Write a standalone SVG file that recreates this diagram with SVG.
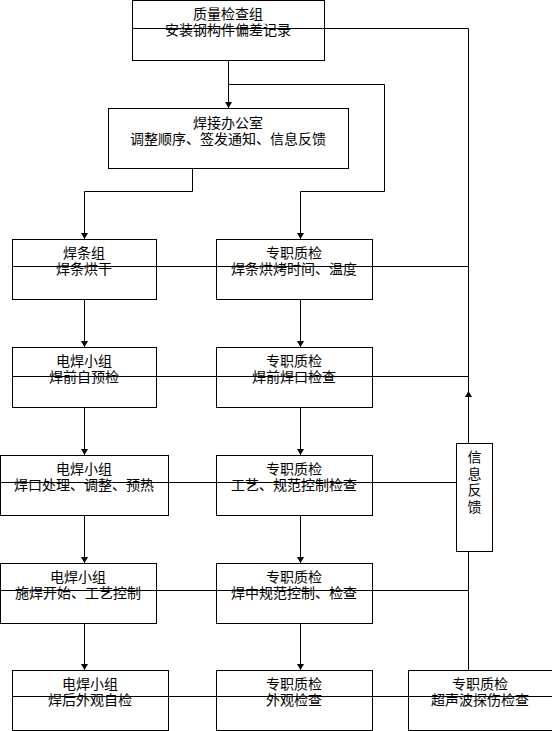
<svg xmlns="http://www.w3.org/2000/svg" width="552" height="731" viewBox="0 0 552 731">
<style>
.box{fill:#fff;stroke:#000;stroke-width:1}
.t{font-family:"Liberation Sans","Noto Sans CJK SC",sans-serif;font-size:14px;fill:#000;text-anchor:middle}
.c{fill:none;stroke:#000;stroke-width:1}
.a{marker-end:url(#ah)}
</style>
<defs>
<marker id="ah" markerUnits="userSpaceOnUse" markerWidth="7" markerHeight="7" refX="6" refY="3.5" orient="auto">
<path d="M0,0 L6,3.5 L0,7 z" fill="#000"/>
</marker>
</defs>
<rect width="552" height="731" fill="#fff"/>
<g id="n-quality"><rect class="box" x="132.5" y="0.5" width="192" height="60"/><text class="t"><tspan x="228" y="19">质量检查组</tspan><tspan x="228" y="35">安装钢构件偏差记录</tspan></text></g>
<g id="n-office"><rect class="box" x="108.5" y="108.5" width="240" height="60"/><text class="t"><tspan x="228" y="128">焊接办公室</tspan><tspan x="228" y="144">调整顺序、签发通知、信息反馈</tspan></text></g>
<g id="n-l1"><rect class="box" x="12.5" y="239.5" width="144" height="60"/><text class="t"><tspan x="84" y="258">焊条组</tspan><tspan x="84" y="274">焊条烘干</tspan></text></g>
<g id="n-r1"><rect class="box" x="216.5" y="239.5" width="156" height="60"/><text class="t"><tspan x="294" y="258">专职质检</tspan><tspan x="294" y="274">焊条烘烤时间、温度</tspan></text></g>
<g id="n-l2"><rect class="box" x="12.5" y="347.5" width="144" height="60"/><text class="t"><tspan x="84" y="366">电焊小组</tspan><tspan x="84" y="382">焊前自预检</tspan></text></g>
<g id="n-r2"><rect class="box" x="216.5" y="347.5" width="156" height="60"/><text class="t"><tspan x="294" y="366">专职质检</tspan><tspan x="294" y="382">焊前焊口检查</tspan></text></g>
<g id="n-l3"><rect class="box" x="0.5" y="455.5" width="168" height="60"/><text class="t"><tspan x="84" y="474">电焊小组</tspan><tspan x="84" y="490">焊口处理、调整、预热</tspan></text></g>
<g id="n-r3"><rect class="box" x="216.5" y="455.5" width="156" height="60"/><text class="t"><tspan x="294" y="474">专职质检</tspan><tspan x="294" y="490">工艺、规范控制检查</tspan></text></g>
<g id="n-l4"><rect class="box" x="0.5" y="563.5" width="156" height="60"/><text class="t"><tspan x="78" y="582">电焊小组</tspan><tspan x="78" y="598">施焊开始、工艺控制</tspan></text></g>
<g id="n-r4"><rect class="box" x="216.5" y="563.5" width="156" height="60"/><text class="t"><tspan x="294" y="582">专职质检</tspan><tspan x="294" y="598">焊中规范控制、检查</tspan></text></g>
<g id="n-l5"><rect class="box" x="12.5" y="670.5" width="156" height="60"/><text class="t"><tspan x="90" y="689">电焊小组</tspan><tspan x="90" y="705">焊后外观自检</tspan></text></g>
<g id="n-r5"><rect class="box" x="216.5" y="670.5" width="156" height="60"/><text class="t"><tspan x="294" y="689">专职质检</tspan><tspan x="294" y="705">外观检查</tspan></text></g>
<g id="n-ut"><rect class="box" x="408.5" y="670.5" width="144" height="60"/><text class="t"><tspan x="480" y="689">专职质检</tspan><tspan x="480" y="705">超声波探伤检查</tspan></text></g>
<g id="connectors">
<path class="c a" d="M228.5,60.5 V108"/>
<path class="c a" d="M228.5,84.5 H384.5 V191.5 H300.5 V239"/>
<path class="c a" d="M192.5,168.5 V191.5 H84.5 V239"/>
<path class="c a" d="M84.5,299.5 V347"/>
<path class="c a" d="M84.5,407.5 V455"/>
<path class="c a" d="M84.5,515.5 V563"/>
<path class="c a" d="M84.5,623.5 V670"/>
<path class="c a" d="M300.5,299.5 V347"/>
<path class="c a" d="M300.5,407.5 V455"/>
<path class="c a" d="M300.5,515.5 V563"/>
<path class="c a" d="M300.5,623.5 V670"/>
<path class="c" d="M132.5,28.5 H468.5 V392"/>
<path class="c a" d="M468.5,670.5 V391"/>
<path class="c" d="M12.5,266.5 H468.5"/>
<path class="c" d="M12.5,376.5 H468.5"/>
<path class="c" d="M0,482.5 H468.5"/>
<path class="c" d="M0,590.5 H468.5"/>
<path class="c" d="M12.5,696.5 H552"/>
</g>
<g id="n-feedback"><rect class="box" x="456.5" y="443.5" width="36" height="108"/><text class="t"><tspan x="474.5" y="462">信</tspan><tspan x="474.5" y="478.5">息</tspan><tspan x="474.5" y="495">反</tspan><tspan x="474.5" y="511.5">馈</tspan></text></g>
</svg>
